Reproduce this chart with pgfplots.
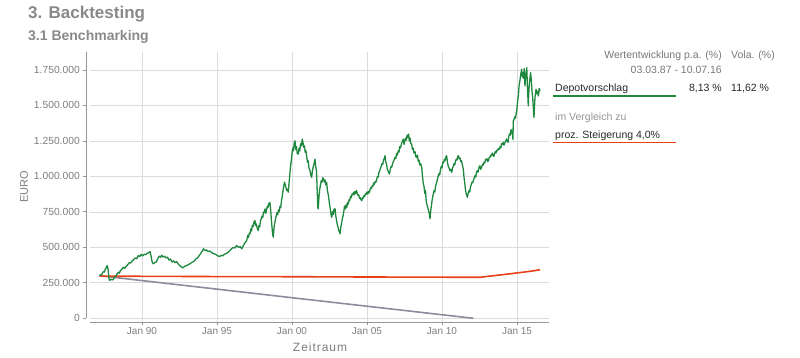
\documentclass[border=0pt]{standalone}
\usepackage{fontspec}
\setmainfont{Liberation Sans}
\usepackage{pgfplots}
\pgfplotsset{compat=1.18}
\definecolor{titlegray}{RGB}{137,137,137}
\definecolor{tickgray}{RGB}{125,125,125}
\definecolor{axisgray}{RGB}{150,150,150}
\definecolor{gridgray}{RGB}{220,220,220}
\definecolor{depotgreen}{RGB}{30,136,62}
\definecolor{benchred}{RGB}{232,65,24}
\definecolor{linegray}{RGB}{140,140,156}
\definecolor{paneltext}{RGB}{40,40,40}
\definecolor{panelgray}{RGB}{120,120,120}
\definecolor{lightgray}{RGB}{150,150,150}
\begin{document}
\begin{tikzpicture}[x=1pt,y=1pt]
\useasboundingbox (0,0) rectangle (800,358);
\begin{axis}[
  at={(90pt,35.5pt)}, anchor=south west,
  scale only axis, width=459pt, height=270.5pt,
  xmin=1986.533, xmax=2017.133,
  ymin=-29.6, ymax=1876.6,
  axis x line*=bottom, axis y line*=left,
  y axis line style={draw=none},
  x axis line style={draw=axisgray, line width=0.8pt},
  tick align=outside, major tick length=3pt,
  xtick={1990,1995,2000,2005,2010,2015},
  xticklabels={Jan 90,Jan 95,Jan 00,Jan 05,Jan 10,Jan 15},
  ytick={0,250,500,750,1000,1250,1500,1750},
  yticklabels={0,250.000,500.000,750.000,1.000.000,1.250.000,1.500.000,1.750.000},
  xtick style={draw=axisgray, line width=0.8pt},
  ytick style={draw=none},
  xticklabel style={font=\fontsize{10}{12}\selectfont, text=tickgray, inner sep=2pt},
  yticklabel style={font=\fontsize{10.3}{12}\selectfont, text=tickgray, inner sep=0pt, xshift=-7pt},
  grid=major,
  major grid style={draw=gridgray, line width=0.7pt},
  clip=false,
]
\addplot[linegray, line width=1.6pt] coordinates {
(1987.17,300) (2000.0,145) (2012.09,0)
};
\addplot[benchred, line width=1.6pt] coordinates {
(1987.17,297) (1995.0,294) (2000.0,293) (2005.0,291) (2012.53,289)
(2013.0,295) (2013.5,301) (2014.0,307) (2014.5,313) (2015.0,320) (2015.5,326) (2016.0,333) (2016.53,342)
};
\addplot[depotgreen, line width=1.3pt, line join=round] coordinates {
(1987.17,300) (1987.25,308) (1987.3,304) (1987.35,318) (1987.45,330) (1987.5,326) (1987.55,345) (1987.62,358) (1987.68,372)
(1987.74,345) (1987.80,280) (1987.85,267) (1987.95,275) (1988.05,270) (1988.15,285) (1988.25,298)
(1988.35,315) (1988.45,325) (1988.5,318) (1988.55,335) (1988.65,345) (1988.75,360) (1988.85,352) (1988.95,368)
(1989.05,378) (1989.15,392) (1989.25,390) (1989.35,405) (1989.45,415) (1989.55,425) (1989.65,420)
(1989.75,443) (1989.85,435) (1989.95,450) (1990.05,440) (1990.15,452) (1990.25,448) (1990.35,458)
(1990.45,462) (1990.53,470) (1990.60,440) (1990.68,395) (1990.75,384) (1990.85,392) (1990.95,396)
(1991.05,420) (1991.15,438) (1991.25,430) (1991.31,445) (1991.4,432) (1991.5,438) (1991.6,425)
(1991.7,431) (1991.8,410) (1991.9,418) (1992.0,396) (1992.1,405) (1992.2,392) (1992.3,400)
(1992.4,385) (1992.5,372) (1992.6,365) (1992.7,356) (1992.8,362) (1992.9,370) (1993.0,372)
(1993.1,380) (1993.2,384) (1993.3,392) (1993.4,398) (1993.5,405) (1993.6,419) (1993.7,425)
(1993.8,440) (1993.9,455) (1994.0,470) (1994.09,490) (1994.2,478) (1994.3,482) (1994.4,470)
(1994.5,475) (1994.65,462) (1994.8,455) (1994.95,448) (1995.05,440) (1995.2,436) (1995.3,445)
(1995.4,440) (1995.5,452) (1995.65,458) (1995.8,470) (1995.95,488) (1996.1,500) (1996.2,495)
(1996.31,513) (1996.45,500) (1996.55,505) (1996.65,490) (1996.75,510) (1996.85,530) (1996.98,548)
(1997.05,585) (1997.1,570) (1997.15,600) (1997.2,595) (1997.25,630) (1997.3,615) (1997.35,655)
(1997.4,645) (1997.47,680) (1997.53,689) (1997.57,655) (1997.62,665) (1997.68,635) (1997.75,618)
(1997.8,655) (1997.85,645) (1997.9,690) (1997.95,700) (1998.0,720) (1998.05,710) (1998.1,750)
(1998.15,745) (1998.2,771) (1998.25,740) (1998.3,760) (1998.35,790) (1998.4,780) (1998.45,810)
(1998.5,800) (1998.53,817) (1998.58,760) (1998.62,700) (1998.66,650) (1998.7,600) (1998.75,571)
(1998.8,640) (1998.85,670) (1998.9,700) (1998.95,720) (1999.0,745) (1999.05,730) (1999.1,765)
(1999.15,750) (1999.2,790) (1999.25,780) (1999.3,830) (1999.35,860) (1999.4,900) (1999.45,930)
(1999.5,960) (1999.55,940) (1999.6,920) (1999.65,900) (1999.7,910) (1999.75,888) (1999.8,950)
(1999.85,1010) (1999.9,1070) (1999.95,1110) (2000.0,1160) (2000.05,1200) (2000.1,1180) (2000.15,1240)
(2000.2,1251) (2000.25,1190) (2000.3,1210) (2000.35,1160) (2000.42,1157) (2000.47,1200) (2000.52,1180)
(2000.57,1230) (2000.63,1215) (2000.68,1263) (2000.73,1240) (2000.78,1205) (2000.83,1215) (2000.88,1170)
(2000.93,1180) (2000.98,1140) (2001.03,1100) (2001.08,1110) (2001.13,1060) (2001.2,1040) (2001.25,1010)
(2001.31,993) (2001.36,1040) (2001.42,1070) (2001.47,1090) (2001.53,1122) (2001.58,1070) (2001.63,1040)
(2001.68,900) (2001.72,780) (2001.75,771) (2001.8,860) (2001.85,910) (2001.9,940) (2001.95,970)
(2002.0,960) (2002.05,990) (2002.1,985) (2002.15,960) (2002.2,975) (2002.25,940) (2002.31,958)
(2002.36,900) (2002.42,870) (2002.47,830) (2002.52,790) (2002.57,760) (2002.62,720) (2002.65,712)
(2002.7,750) (2002.75,730) (2002.8,770) (2002.87,771) (2002.92,720) (2002.97,690) (2003.02,660)
(2003.07,640) (2003.12,615) (2003.17,620) (2003.2,595) (2003.25,640) (2003.3,665) (2003.35,700)
(2003.4,720) (2003.45,750) (2003.5,790) (2003.55,770) (2003.6,800) (2003.65,780) (2003.7,817)
(2003.75,805) (2003.8,835) (2003.85,830) (2003.9,860) (2003.95,850) (2004.0,875) (2004.05,870)
(2004.1,888) (2004.15,870) (2004.2,895) (2004.25,880) (2004.3,900) (2004.35,880) (2004.4,865)
(2004.45,870) (2004.5,845) (2004.55,850) (2004.6,835) (2004.65,829) (2004.7,850) (2004.75,845)
(2004.8,865) (2004.85,860) (2004.9,880) (2004.95,875) (2005.0,890) (2005.05,875) (2005.1,895)
(2005.15,885) (2005.2,905) (2005.25,920) (2005.3,915) (2005.35,935) (2005.4,930) (2005.45,955)
(2005.5,945) (2005.55,965) (2005.6,960) (2005.65,982) (2005.7,1000) (2005.75,995) (2005.8,1030)
(2005.85,1040) (2005.9,1060) (2005.95,1070) (2006.0,1090) (2006.05,1085) (2006.1,1115) (2006.15,1125)
(2006.2,1146) (2006.25,1100) (2006.3,1090) (2006.35,1050) (2006.4,1040) (2006.45,1025) (2006.49,1017)
(2006.55,1050) (2006.6,1070) (2006.65,1065) (2006.7,1090) (2006.75,1100) (2006.8,1115) (2006.87,1134)
(2006.92,1125) (2006.97,1160) (2007.02,1150) (2007.08,1180) (2007.13,1170) (2007.18,1210) (2007.23,1200)
(2007.3,1230) (2007.35,1245) (2007.42,1263) (2007.47,1225) (2007.52,1250) (2007.57,1270) (2007.62,1255)
(2007.67,1290) (2007.72,1275) (2007.77,1298) (2007.82,1250) (2007.87,1270) (2007.92,1230) (2007.98,1228)
(2008.03,1190) (2008.08,1200) (2008.13,1165) (2008.2,1175) (2008.25,1140) (2008.31,1134) (2008.36,1150)
(2008.42,1105) (2008.47,1115) (2008.52,1080) (2008.58,1090) (2008.65,1063) (2008.7,1000) (2008.75,950)
(2008.8,930) (2008.85,880) (2008.9,900) (2008.95,820) (2009.0,800) (2009.05,780) (2009.1,759)
(2009.15,740) (2009.2,701) (2009.25,760) (2009.3,800) (2009.35,840) (2009.42,876) (2009.47,900)
(2009.52,890) (2009.57,930) (2009.62,950) (2009.68,970) (2009.75,1005) (2009.8,1020) (2009.85,1010)
(2009.9,1050) (2009.95,1070) (2010.0,1060) (2010.05,1100) (2010.1,1095) (2010.15,1120) (2010.2,1110)
(2010.25,1135) (2010.31,1146) (2010.36,1100) (2010.42,1070) (2010.47,1060) (2010.52,1040) (2010.58,1050)
(2010.65,1028) (2010.7,1060) (2010.75,1070) (2010.8,1090) (2010.85,1080) (2010.9,1110) (2010.95,1120)
(2011.0,1115) (2011.05,1140) (2011.09,1146) (2011.15,1125) (2011.2,1130) (2011.25,1105) (2011.3,1110)
(2011.36,1080) (2011.42,1052) (2011.47,990) (2011.52,950) (2011.57,900) (2011.62,875) (2011.69,853)
(2011.74,880) (2011.8,900) (2011.85,890) (2011.9,930) (2011.95,940) (2012.0,960) (2012.05,955)
(2012.09,970) (2012.15,990) (2012.2,1005) (2012.25,995) (2012.3,1030) (2012.35,1040) (2012.4,1030)
(2012.47,1065) (2012.53,1075) (2012.58,1050) (2012.63,1060) (2012.7,1085) (2012.75,1080) (2012.8,1100)
(2012.85,1095) (2012.9,1120) (2012.95,1115) (2013.0,1125) (2013.05,1105) (2013.1,1110) (2013.15,1135)
(2013.2,1134) (2013.25,1150) (2013.3,1145) (2013.35,1165) (2013.4,1150) (2013.45,1140) (2013.5,1160)
(2013.55,1175) (2013.6,1165) (2013.65,1185) (2013.7,1180) (2013.75,1195) (2013.8,1190) (2013.87,1210)
(2013.92,1200) (2013.97,1230) (2014.02,1225) (2014.08,1240) (2014.13,1220) (2014.18,1235) (2014.25,1250)
(2014.31,1263) (2014.36,1245) (2014.4,1240) (2014.45,1280) (2014.5,1300) (2014.55,1290) (2014.6,1330)
(2014.65,1310) (2014.7,1300) (2014.73,1260) (2014.75,1390) (2014.8,1400) (2014.85,1420) (2014.9,1410)
(2014.95,1450) (2014.98,1462) (2015.03,1520) (2015.09,1567) (2015.14,1640) (2015.2,1680) (2015.25,1720)
(2015.31,1755) (2015.35,1700) (2015.4,1730) (2015.44,1690) (2015.48,1760) (2015.53,1638) (2015.57,1690)
(2015.6,1720) (2015.65,1767) (2015.68,1680) (2015.7,1600) (2015.73,1550) (2015.75,1497) (2015.78,1580)
(2015.82,1650) (2015.87,1700) (2015.91,1731) (2015.95,1680) (2016.0,1600) (2016.04,1560) (2016.08,1500)
(2016.13,1415) (2016.17,1500) (2016.2,1560) (2016.24,1590) (2016.27,1614) (2016.31,1590) (2016.35,1580)
(2016.39,1600) (2016.42,1567) (2016.45,1590) (2016.48,1620) (2016.53,1600)
};
\end{axis}
% separated y axis line and ticks
\draw[axisgray, line width=0.8pt] (86,39.7) -- (86,306);
\foreach \k in {0,...,7} {
  \draw[axisgray, line width=0.8pt] (82.5,{39.7+\k*35.47}) -- (86,{39.7+\k*35.47});
}
% titles
\node[anchor=base west, inner sep=0pt, text=titlegray, font=\bfseries\fontsize{17}{20}\selectfont] at (28,339) {3. Backtesting};
\node[anchor=base west, inner sep=0pt, text=titlegray, font=\bfseries\fontsize{14}{16}\selectfont] at (28,317) {3.1 Benchmarking};
% axis titles
\node[inner sep=0pt, text=tickgray, font=\fontsize{12}{14}\selectfont\addfontfeature{LetterSpace=8}] at (320,11) {Zeitraum};
\node[inner sep=0pt, text=tickgray, rotate=90, font=\fontsize{11}{13}\selectfont] at (24,171) {EURO};
% right panel
\node[anchor=base east, inner sep=0pt, text=panelgray, font=\fontsize{10.5}{12}\selectfont] at (722,299) {Wertentwicklung p.a. (\%)};
\node[anchor=base west, inner sep=0pt, text=panelgray, font=\fontsize{10.5}{12}\selectfont] at (731,299) {Vola. (\%)};
\node[anchor=base east, inner sep=0pt, text=panelgray, font=\fontsize{10.5}{12}\selectfont] at (722,284.7) {03.03.87 - 10.07.16};
\node[anchor=base west, inner sep=0pt, text=paneltext, font=\fontsize{10.5}{12}\selectfont] at (555,266.3) {Depotvorschlag};
\node[anchor=base east, inner sep=0pt, text=paneltext, font=\fontsize{10.5}{12}\selectfont] at (722,266.3) {8,13 \%};
\node[anchor=base west, inner sep=0pt, text=paneltext, font=\fontsize{10.5}{12}\selectfont] at (731,266.3) {11,62 \%};
\draw[depotgreen, line width=1.5pt] (553,262) -- (676,262);
\node[anchor=base west, inner sep=0pt, text=lightgray, font=\fontsize{10.5}{12}\selectfont] at (555,237) {im Vergleich zu};
\node[anchor=base west, inner sep=0pt, text=paneltext, font=\fontsize{10.5}{12}\selectfont] at (555,219) {proz. Steigerung 4,0\%};
\draw[benchred, line width=1pt] (553,215.3) -- (676,215.3);
\end{tikzpicture}
\end{document}
